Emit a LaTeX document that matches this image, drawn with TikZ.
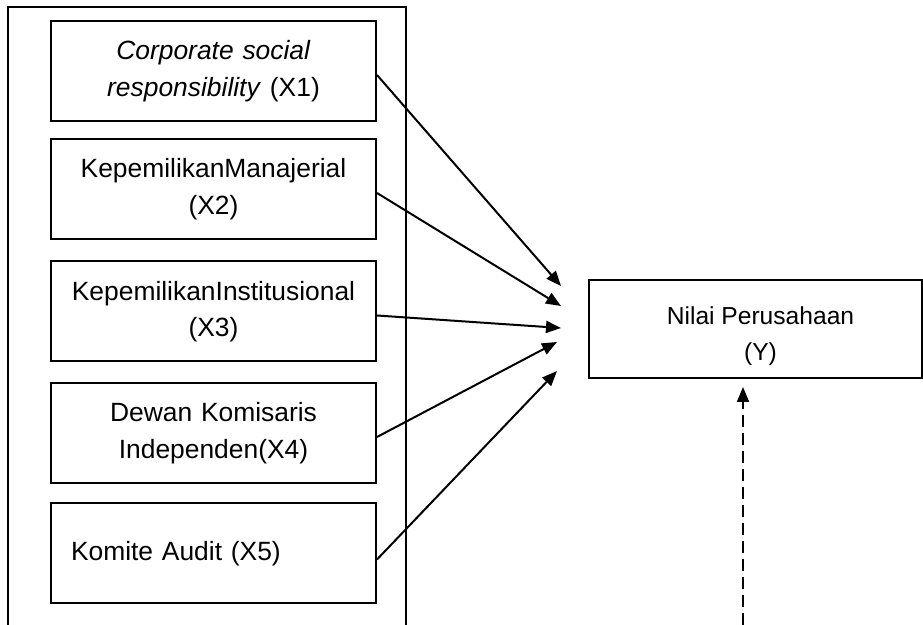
\documentclass[tikz,border=0pt]{standalone}
\usepackage{fontspec}
\setmainfont{Liberation Sans}
\usepackage{tikz}
\usetikzlibrary{arrows.meta}

\tikzset{
  varbox/.style = {draw, line width=1pt, minimum width=162.5pt, minimum height=50pt,
                   text width=152.5pt, inner xsep=5pt, align=center,
                   font=\fontsize{13.2}{18.2}\selectfont},
  ybox/.style = {draw, line width=1pt, minimum width=166.5pt, minimum height=49pt,
                 align=center, font=\fontsize{12.3}{17.8}\selectfont},
  link/.style = {line width=1pt, -{Triangle[length=7.5pt,width=6pt]}}
}

\begin{document}
\begin{tikzpicture}[x=0.5pt, y=-0.5pt]
\useasboundingbox (0,0) rectangle (923,625);
% frame round the independent variables (open at the bottom)
\draw[line width=1.1pt] (8,625) -- (8,7) -- (406,7) -- (406,625);

\node[varbox] (x1) at (213.5,71) {\textit{Corporate social}\\\textit{responsibility} (X1)};
\node[varbox] (x2) at (213.5,189) {KepemilikanManajerial\\(X2)};
\node[varbox] (x3) at (213.5,311.5) {KepemilikanInstitusional\\(X3)};
\node[varbox] (x4) at (213.5,433) {Dewan Komisaris\\Independen(X4)};
\node[varbox, align=left, text width=142.5pt, inner xsep=10pt] (x5) at (213.5,553.5) {Komite Audit (X5)};

\node[ybox] (y) at (755.5,329) {\rule{0pt}{16pt}\hspace*{5pt}Nilai Perusahaan\\\hspace*{5pt}(Y)};

% arrow ends in front of Y
\coordinate (t1) at (561,286);
\coordinate (t2) at (561,306);
\coordinate (t3) at (561,328);
\coordinate (t4) at (557,342);
\coordinate (t5) at (557,371);
\draw[link] ([yshift=-2pt]x1.east) -- (t1);
\draw[link] ([yshift=-2pt]x2.east) -- (t2);
\draw[link] ([yshift=-2pt]x3.east) -- (t3);
\draw[link] ([yshift=-2pt]x4.east) -- (t4);
\draw[link] ([yshift=-3pt]x5.east) -- (t5);

% dashed arrow from below
\coordinate (d0) at (743,625);
\coordinate (d1) at (743,387);
\draw[link, dash pattern=on 6pt off 3pt] (d0) -- (d1);
\end{tikzpicture}
\end{document}
